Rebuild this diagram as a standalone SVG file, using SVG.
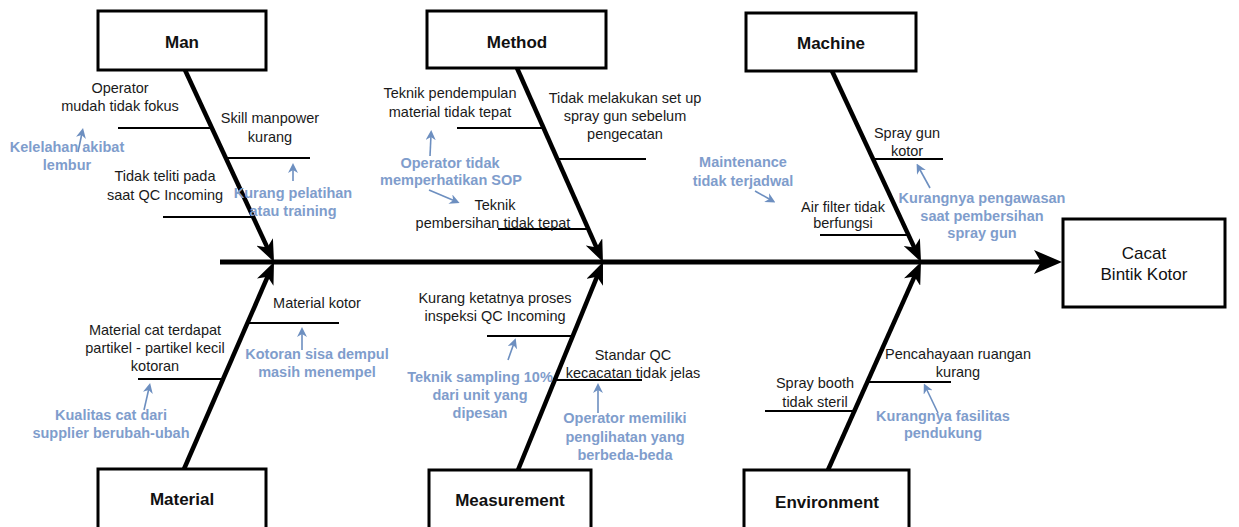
<svg xmlns="http://www.w3.org/2000/svg" width="1239" height="527" viewBox="0 0 1239 527">
<style>
.box{fill:#fff;stroke:#000;stroke-width:3}
.title{font-family:"Liberation Sans",Arial,sans-serif;font-size:17px;font-weight:bold;fill:#111;text-anchor:middle}
.eff{font-family:"Liberation Sans",Arial,sans-serif;font-size:17px;fill:#111;text-anchor:middle}
.lbl{font-family:"Liberation Sans",Arial,sans-serif;font-size:14.5px;fill:#1a1a1a;text-anchor:middle}
.blue{font-family:"Liberation Sans",Arial,sans-serif;font-size:14.5px;font-weight:bold;fill:#7f9dcc;text-anchor:middle}
.spine{stroke:#000;stroke-width:4.5;fill:none}
.main{stroke:#000;stroke-width:5;fill:none}
.br{stroke:#000;stroke-width:2.2;fill:none}
.ba{stroke:#6d8fc0;stroke-width:1.6;fill:none}
</style>
<defs>
<marker id="ah" markerUnits="userSpaceOnUse" viewBox="0 0 22 18" markerWidth="22" markerHeight="18" refX="12" refY="9" orient="auto">
<path d="M0,0 L22,9 L0,18 L6,9 z" fill="#000"/>
</marker>
<marker id="ahm" markerUnits="userSpaceOnUse" viewBox="0 0 28 24" markerWidth="28" markerHeight="24" refX="14" refY="12" orient="auto">
<path d="M0,0 L28,12 L0,24 L7,12 z" fill="#000"/>
</marker>
<marker id="ab" markerUnits="userSpaceOnUse" viewBox="0 0 10 10" markerWidth="10" markerHeight="10" refX="5" refY="5" orient="auto">
<path d="M0,0 L10,5 L0,10 L3,5 z" fill="#6d8fc0"/>
</marker>
</defs>

<g id="connectors">
<line class="main" x1="220" y1="262" x2="1048" y2="262" marker-end="url(#ahm)"/>
<line class="spine" x1="185" y1="70" x2="269.8" y2="252.9" marker-end="url(#ah)"/>
<line class="spine" x1="517" y1="68" x2="598.9" y2="252.9" marker-end="url(#ah)"/>
<line class="spine" x1="832" y1="71" x2="916.8" y2="252.9" marker-end="url(#ah)"/>
<line class="spine" x1="184" y1="469" x2="270" y2="271.2" marker-end="url(#ah)"/>
<line class="spine" x1="518" y1="470" x2="599.2" y2="271.3" marker-end="url(#ah)"/>
<line class="spine" x1="828" y1="470" x2="916.9" y2="271.1" marker-end="url(#ah)"/>
<!-- branches -->
<line class="br" x1="118" y1="128" x2="212" y2="128"/>
<line class="br" x1="224" y1="158" x2="310" y2="158"/>
<line class="br" x1="163" y1="217" x2="253" y2="217"/>
<line class="br" x1="457" y1="128" x2="544" y2="128"/>
<line class="br" x1="557" y1="159" x2="646" y2="159"/>
<line class="br" x1="498" y1="229" x2="589" y2="229"/>
<line class="br" x1="873" y1="159" x2="943" y2="159"/>
<line class="br" x1="820" y1="235" x2="909" y2="235"/>
<line class="br" x1="248" y1="323" x2="339" y2="323"/>
<line class="br" x1="138" y1="379" x2="223" y2="379"/>
<line class="br" x1="487" y1="336" x2="573" y2="336"/>
<line class="br" x1="555" y1="380" x2="642" y2="380"/>
<line class="br" x1="867" y1="382" x2="951" y2="382"/>
<line class="br" x1="765" y1="411" x2="854" y2="411"/>
<!-- blue cause arrows -->
<line class="ba" x1="78" y1="152" x2="82" y2="133" marker-end="url(#ab)"/>
<line class="ba" x1="293" y1="181" x2="293" y2="168" marker-end="url(#ab)"/>
<line class="ba" x1="430" y1="156" x2="431" y2="135" marker-end="url(#ab)"/>
<line class="ba" x1="429" y1="190" x2="455" y2="201" marker-end="url(#ab)"/>
<line class="ba" x1="755" y1="191" x2="771" y2="200" marker-end="url(#ab)"/>
<line class="ba" x1="930" y1="188" x2="919" y2="168" marker-end="url(#ab)"/>
<line class="ba" x1="302" y1="350" x2="302" y2="332" marker-end="url(#ab)"/>
<line class="ba" x1="144" y1="410" x2="149" y2="388" marker-end="url(#ab)"/>
<line class="ba" x1="508" y1="360" x2="514" y2="343" marker-end="url(#ab)"/>
<line class="ba" x1="598" y1="413" x2="598" y2="388" marker-end="url(#ab)"/>
<line class="ba" x1="938" y1="413" x2="926" y2="388" marker-end="url(#ab)"/>
</g>

<g id="effect">
<rect class="box" x="1063" y="219" width="162" height="88"/>
<text class="eff" x="1144" y="259">Cacat</text>
<text class="eff" x="1144" y="280">Bintik Kotor</text>
</g>

<g id="man">
<rect class="box" x="98" y="11" width="168" height="59"/>
<text class="title" x="182" y="48">Man</text>
<text class="lbl" x="120" y="93">Operator</text>
<text class="lbl" x="120" y="111">mudah tidak fokus</text>
<text class="lbl" x="270" y="123">Skill manpower</text>
<text class="lbl" x="270" y="142">kurang</text>
<text class="lbl" x="165" y="181">Tidak teliti pada</text>
<text class="lbl" x="165" y="200">saat QC Incoming</text>
<text class="blue" x="67" y="152">Kelelahan akibat</text>
<text class="blue" x="67" y="170">lembur</text>
<text class="blue" x="293" y="198">Kurang pelatihan</text>
<text class="blue" x="293" y="216">atau training</text>
</g>

<g id="method">
<rect class="box" x="427" y="11" width="179" height="57"/>
<text class="title" x="517" y="48">Method</text>
<text class="lbl" x="450" y="98">Teknik pendempulan</text>
<text class="lbl" x="450" y="117">material tidak tepat</text>
<text class="lbl" x="625" y="103">Tidak melakukan set up</text>
<text class="lbl" x="625" y="121">spray gun sebelum</text>
<text class="lbl" x="625" y="139">pengecatan</text>
<text class="lbl" x="495" y="210">Teknik</text>
<text class="lbl" x="493" y="228">pembersihan tidak tepat</text>
<text class="blue" x="450" y="168">Operator tidak</text>
<text class="blue" x="451" y="185">memperhatikan SOP</text>
</g>

<g id="machine">
<rect class="box" x="746" y="13" width="170" height="58"/>
<text class="title" x="831" y="49">Machine</text>
<text class="lbl" x="907" y="138">Spray gun</text>
<text class="lbl" x="907" y="156">kotor</text>
<text class="lbl" x="843" y="212">Air filter tidak</text>
<text class="lbl" x="843" y="228">berfungsi</text>
<text class="blue" x="743" y="167">Maintenance</text>
<text class="blue" x="743" y="186">tidak terjadwal</text>
<text class="blue" x="982" y="203">Kurangnya pengawasan</text>
<text class="blue" x="982" y="221">saat pembersihan</text>
<text class="blue" x="982" y="238">spray gun</text>
</g>

<g id="material">
<rect class="box" x="98" y="469" width="168" height="80"/>
<text class="title" x="182" y="505">Material</text>
<text class="lbl" x="317" y="308">Material kotor</text>
<text class="lbl" x="155" y="335">Material cat terdapat</text>
<text class="lbl" x="155" y="353">partikel - partikel kecil</text>
<text class="lbl" x="155" y="371">kotoran</text>
<text class="blue" x="317" y="359">Kotoran sisa dempul</text>
<text class="blue" x="317" y="377">masih menempel</text>
<text class="blue" x="111" y="420">Kualitas cat dari</text>
<text class="blue" x="111" y="438">supplier berubah-ubah</text>
</g>

<g id="measurement">
<rect class="box" x="429" y="470" width="162" height="80"/>
<text class="title" x="510" y="506">Measurement</text>
<text class="lbl" x="495" y="303">Kurang ketatnya proses</text>
<text class="lbl" x="495" y="321">inspeksi QC Incoming</text>
<text class="lbl" x="633" y="360">Standar QC</text>
<text class="lbl" x="633" y="378">kecacatan tidak jelas</text>
<text class="blue" x="480" y="382">Teknik sampling 10%</text>
<text class="blue" x="480" y="400">dari unit yang</text>
<text class="blue" x="480" y="418">dipesan</text>
<text class="blue" x="625" y="423">Operator memiliki</text>
<text class="blue" x="625" y="442">penglihatan yang</text>
<text class="blue" x="625" y="460">berbeda-beda</text>
</g>

<g id="environment">
<rect class="box" x="744" y="470" width="165" height="80"/>
<text class="title" x="827" y="508">Environment</text>
<text class="lbl" x="958" y="359">Pencahayaan ruangan</text>
<text class="lbl" x="958" y="377">kurang</text>
<text class="lbl" x="815" y="388">Spray booth</text>
<text class="lbl" x="815" y="407">tidak steril</text>
<text class="blue" x="943" y="421">Kurangnya fasilitas</text>
<text class="blue" x="943" y="438">pendukung</text>
</g>
</svg>
